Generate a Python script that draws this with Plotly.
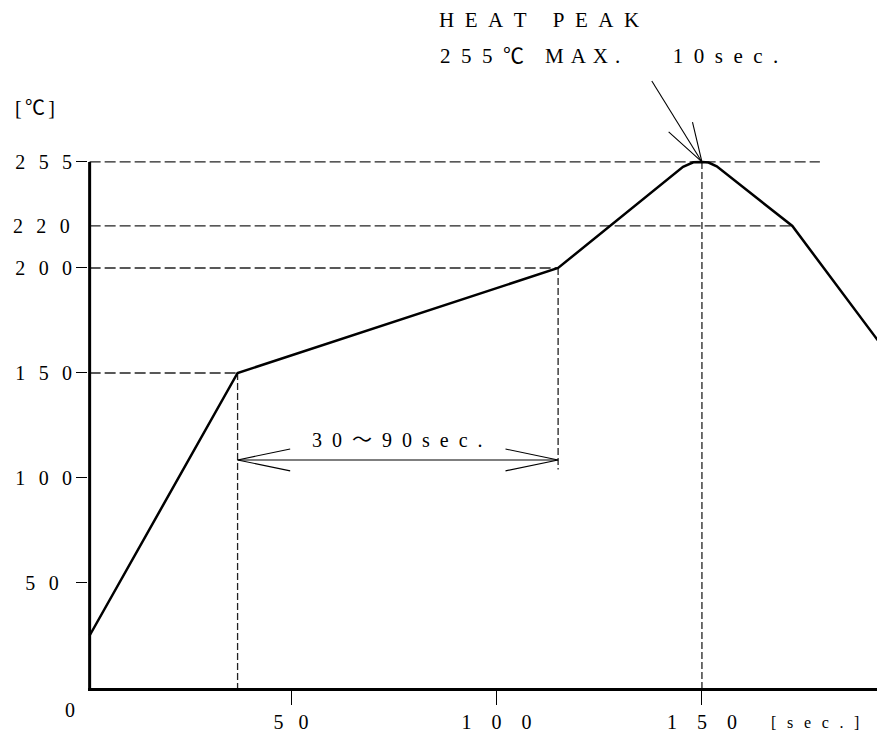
import plotly.graph_objects as go

# ---------------- data ----------------
# reflow temperature profile: time [sec] vs temperature [deg C]
TIME_S = [1, 37, 115, 145.4, 147.9, 150, 151.6, 153.6, 172, 193]
TEMP_C = [25, 150, 200, 248.2, 250.3, 250.5, 250.2, 248.4, 220, 165]

PEAK_TIME = 150
PEAK_LEVEL = 250.5          # drawn level of the "255" line
SOAK_START = 37
SOAK_END = 115
SOAK_ARROW_Y = 108.6

# dashed guide lines
H_GUIDE_TEMP = [PEAK_LEVEL, 220, 200, 150]
H_GUIDE_END = [178.7, 172, 115, 37]
V_GUIDE_TIME = [37, 115, 150]
V_GUIDE_TOP = [150, 200, PEAK_LEVEL]
V_GUIDE_BOTTOM = [0, 104, 0]

# axis ticks
X_TICK_VALS = [50, 100, 150]
X_TICK_TEXT = ["50", "100", "150"]
Y_TICK_VALS = [50, 100, 150, 200, PEAK_LEVEL]
Y_TICK_TEXT = ["50", "100", "150", "200", "255"]

X_RANGE = [0.6, 192.6]
Y_RANGE = [0, 327.6]

FONT = "Liberation Serif, Noto Sans CJK JP, DejaVu Serif, serif"
EN, EM, THREE, FOUR, SIX = "\u2002", "\u2003", "\u2004", "\u2005", "\u2006"


def sp(text, sep):
    return sep.join(list(text))


fig = go.Figure()

GUIDE_COLOR = "#222222"

# dashed horizontal guides
hx, hy = [], []
for t, e in zip(H_GUIDE_TEMP, H_GUIDE_END):
    hx += [TIME_S[0], e, None]
    hy += [t, t, None]
fig.add_trace(go.Scatter(x=hx, y=hy, mode="lines",
                         line=dict(color=GUIDE_COLOR, width=1.3, dash="11px,4px"),
                         hoverinfo="skip", showlegend=False))

# dashed vertical guides
vx, vy = [], []
for t, top, bot in zip(V_GUIDE_TIME, V_GUIDE_TOP, V_GUIDE_BOTTOM):
    vx += [t, t, None]
    vy += [top, bot, None]
fig.add_trace(go.Scatter(x=vx, y=vy, mode="lines",
                         line=dict(color=GUIDE_COLOR, width=1.3, dash="7px,3px"),
                         hoverinfo="skip", showlegend=False))

# y axis line (only up to the peak level)
fig.add_trace(go.Scatter(x=[TIME_S[0], TIME_S[0]], y=[0, PEAK_LEVEL], mode="lines",
                         line=dict(color="black", width=3),
                         hoverinfo="skip", showlegend=False))

# soak-time double arrow
hdx, hdy = 12.8, 5.2
ax_ = [SOAK_START, SOAK_END, None,
       SOAK_START + hdx, SOAK_START, SOAK_START + hdx, None,
       SOAK_END - hdx, SOAK_END, SOAK_END - hdx]
ay_ = [SOAK_ARROW_Y, SOAK_ARROW_Y, None,
       SOAK_ARROW_Y + hdy, SOAK_ARROW_Y, SOAK_ARROW_Y - hdy, None,
       SOAK_ARROW_Y + hdy, SOAK_ARROW_Y, SOAK_ARROW_Y - hdy]
fig.add_trace(go.Scatter(x=ax_, y=ay_, mode="lines",
                         line=dict(color="black", width=1.1),
                         hoverinfo="skip", showlegend=False))

# heat-peak pointer arrow
px_ = [PEAK_TIME - 12.2, PEAK_TIME, None,
       PEAK_TIME - 8.1, PEAK_TIME, PEAK_TIME - 2.3]
py_ = [PEAK_LEVEL + 38.5, PEAK_LEVEL, None,
       PEAK_LEVEL + 14.3, PEAK_LEVEL, PEAK_LEVEL + 19.0]
fig.add_trace(go.Scatter(x=px_, y=py_, mode="lines",
                         line=dict(color="black", width=1.1),
                         hoverinfo="skip", showlegend=False))

# temperature profile
fig.add_trace(go.Scatter(x=TIME_S, y=TEMP_C, mode="lines",
                         line=dict(color="black", width=2.5),
                         hoverinfo="skip", showlegend=False))

# ---------------- layout ----------------
FIG_W, FIG_H = 877, 740
PL, PR, PT, PB = 88, 877, 0, 688   # plot area in pixels
PW, PH = PR - PL, PB - PT


def pxx(x):   # picture x pixel -> paper coordinate
    return (x - PL) / PW


def pxy(y):   # picture y pixel -> paper coordinate
    return (PB - y) / PH


annots = [
    dict(text=sp("HEAT", EN) + EM + FOUR + sp("PEAK", EN),
         x=pxx(437), y=pxy(20), xanchor="left", yanchor="middle", font_size=21),
    dict(text=sp("255", EN) + EN + "℃" + EM + sp("MAX.", THREE) + EM + EM + EN + sp("10sec.", EN),
         x=pxx(438), y=pxy(56), xanchor="left", yanchor="middle", font_size=21),
    dict(text=sp("30", EN) + EN + "～" + EN + sp("90sec.", EN),
         x=pxx(397), y=pxy(440), xanchor="center", yanchor="middle", font_size=20),
    dict(text="[" + SIX + "℃" + SIX + "]",
         x=pxx(13), y=pxy(108), xanchor="left", yanchor="middle", font_size=20),
    dict(text=sp("220", EN + SIX),
         x=pxx(72), y=pxy(226), xanchor="right", yanchor="middle", font_size=20),
    dict(text="0",
         x=pxx(70), y=pxy(710), xanchor="center", yanchor="middle", font_size=20),
    dict(text=sp("[sec.]", EN + SIX),
         x=pxx(815), y=pxy(722), xanchor="center", yanchor="middle", font_size=16),
]
for a in annots:
    a.update(xref="paper", yref="paper", showarrow=False,
             font=dict(family=FONT, color="black", size=a.pop("font_size")))

y_text = [sp(t, EN + SIX) + (EN + SIX if len(t) == 2 else "") for t in Y_TICK_TEXT]
x_text = [sp(t, EM) if len(t) == 3 else sp(t, EN + FOUR) for t in X_TICK_TEXT]

fig.update_layout(
    width=FIG_W, height=FIG_H,
    margin=dict(l=PL, r=FIG_W - PR, t=PT, b=FIG_H - PB, pad=0),
    paper_bgcolor="white", plot_bgcolor="white",
    hovermode=False,
    annotations=annots,
    xaxis=dict(range=X_RANGE, showgrid=False, zeroline=False,
               showline=True, linecolor="black", linewidth=3,
               ticks="outside", ticklen=14, tickwidth=1.3, tickcolor="black",
               tickvals=X_TICK_VALS, ticktext=x_text, ticklabelstandoff=0,
               tickfont=dict(family=FONT, size=20, color="black")),
    yaxis=dict(range=Y_RANGE, showgrid=False, zeroline=False,
               showline=False,
               ticks="outside", ticklen=11, tickwidth=1.3, tickcolor="black",
               tickvals=Y_TICK_VALS, ticktext=y_text,
               tickfont=dict(family=FONT, size=20, color="black")),
)

fig.write_html(
    "out.html",
    config={"displayModeBar": False},
    post_script="document.body.style.margin='0';"
                "document.documentElement.style.overflow='hidden';",
)
